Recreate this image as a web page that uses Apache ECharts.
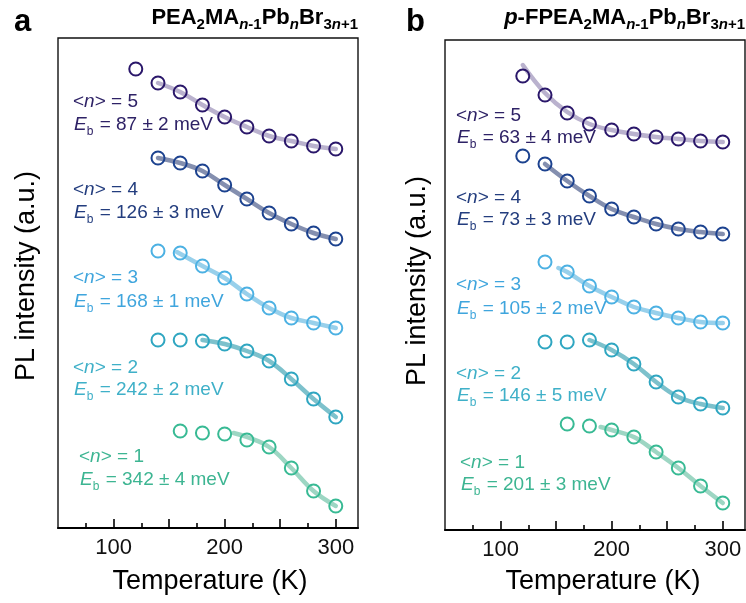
<!DOCTYPE html>
<html>
<head>
<meta charset="utf-8">
<script src="https://cdn.jsdelivr.net/npm/echarts@6/dist/echarts.min.js"></script>
<style>html,body{margin:0;padding:0;background:#fff}#c{width:746px;height:603px}</style>
</head>
<body>
<div id="c"></div>
<script>
// ---- data (temperature in K, PL intensity in arbitrary offset units) ----
const temps = [120, 140, 160, 180, 200, 220, 240, 260, 280, 300];
const xTicksMajor = [100, 150, 200, 250, 300];
const xTicksMinor = [75, 125, 175, 225, 275];
const xLabels = [100, 200, 300];

// panel a: PEA2MA(n-1)PbnBr(3n+1)
const a5 = [459, 445, 436, 423, 411, 401, 392, 387, 382, 379];
const a4 = [null, 370, 365, 357, 343, 329, 315, 304, 295, 289];
const a3 = [null, 277, 275, 262, 250, 234, 220, 210, 205, 200];
const a2 = [null, 188, 188, 187, 184, 177, 167, 149, 129, 111];
const a1 = [null, null, 97, 95, 94, 88, 81, 60, 37, 22];
const fitA5 = [[140, 445], [160, 436], [180, 423], [200, 411], [220, 401], [240, 392], [260, 387], [280, 382], [300, 379]];
const fitA4 = [[140, 370], [160, 365], [180, 357], [200, 343], [220, 329], [240, 315], [260, 304], [280, 295], [300, 289]];
const fitA3 = [[157, 276], [180, 262], [200, 250], [220, 234], [240, 220], [260, 210], [280, 205], [300, 200]];
const fitA2 = [[180, 188], [200, 184], [220, 177], [240, 167], [260, 149], [280, 129], [300, 111]];
const fitA1 = [[208, 95], [220, 91], [240, 81], [260, 60], [280, 37], [300, 22]];

// panel b: p-FPEA2MA(n-1)PbnBr(3n+1)
const b5 = [454, 435, 417, 406, 400, 396, 393, 391, 389, 388];
const b4 = [374, 366, 349, 334, 321, 313, 306, 301, 298, 296];
const b3 = [null, 268, 258, 244, 233, 223, 217, 212, 208, 207];
const b2 = [null, 188, 188, 190, 180, 166, 148, 133, 126, 122];
const b1 = [null, null, 106, 104, 100, 93, 78, 62, 44, 27];
const fitB5 = [[120, 465], [140, 437], [160, 418], [180, 406], [200, 400], [220, 396], [240, 393], [260, 391], [280, 389], [300, 388]];
const fitB4 = [[140, 366], [160, 349], [180, 334], [200, 321], [220, 313], [240, 306], [260, 301], [280, 298], [300, 296]];
const fitB3 = [[152, 262], [160, 258], [180, 244], [200, 233], [220, 223], [240, 217], [260, 212], [280, 208], [300, 207]];
const fitB2 = [[180, 190], [200, 180], [220, 166], [240, 148], [260, 133], [280, 126], [300, 122]];
const fitB1 = [[190, 103], [200, 100], [220, 93], [240, 78], [260, 62], [280, 44], [300, 27]];

const nLabels = ['5', '4', '3', '2', '1'];
const ebA = ['87 ± 2', '126 ± 3', '168 ± 1', '242 ± 2', '342 ± 4'];
const ebB = ['63 ± 4', '73 ± 3', '105 ± 2', '146 ± 5', '201 ± 3'];

// ---- styles ----
const FONT = "'Liberation Sans', Arial, Helvetica, sans-serif";
const markerColors = ['#2a176a', '#1c428f', '#4cb1e3', '#2fa6c1', '#38ba94'];
const lineColors = ['#b3aac9', '#7783a6', '#8dcbe9', '#6fbac7', '#92d2bc'];
const textColors = ['#2e2266', '#233d7e', '#3fa5dd', '#3fb0c8', '#3db592'];

const chart = echarts.init(document.getElementById('c'), null, {renderer: 'canvas'});

function zip(vals) { return temps.map((t, i) => [t, vals[i]]).filter(p => p[1] !== null); }

function xAxisPair(gi) {
  return [
    {
      gridIndex: gi, type: 'value', min: 50, max: 320, position: 'bottom',
      axisLine: {show: true, onZero: false, lineStyle: {color: '#000', width: 2}},
      axisTick: {show: true, inside: true, length: 9, customValues: xTicksMajor, lineStyle: {color: '#000', width: 1.6}},
      axisLabel: {show: true, customValues: xLabels, margin: 9, fontSize: 22, color: '#111', fontFamily: FONT},
      splitLine: {show: false}
    },
    {
      gridIndex: gi, type: 'value', min: 50, max: 320, position: 'bottom',
      axisLine: {show: false},
      axisTick: {show: true, inside: true, length: 5, customValues: xTicksMinor, lineStyle: {color: '#000', width: 1.6}},
      axisLabel: {show: false},
      splitLine: {show: false}
    }
  ];
}

function yAxis(gi) {
  return {gridIndex: gi, type: 'value', min: 0, max: 490, show: false};
}

const series = [];
function addPanel(gi, pts, fits) {
  fits.forEach((f, k) => {
    series.push({
      type: 'line', xAxisIndex: gi * 2, yAxisIndex: gi, data: f, smooth: 0.4,
      showSymbol: false, symbol: 'none', z: 2, silent: true,
      lineStyle: {color: lineColors[k], width: 4.5, opacity: 0.9, cap: 'round'}
    });
  });
  pts.forEach((p, k) => {
    series.push({
      type: 'scatter', xAxisIndex: gi * 2, yAxisIndex: gi, data: zip(p), z: 3,
      symbol: 'circle', symbolSize: 13,
      itemStyle: {color: 'rgba(255,255,255,0)', borderColor: markerColors[k], borderWidth: 2, opacity: 1}
    });
  });
}
addPanel(0, [a5, a4, a3, a2, a1], [fitA5, fitA4, fitA3, fitA2, fitA1]);
addPanel(1, [b5, b4, b3, b2, b1], [fitB5, fitB4, fitB3, fitB2, fitB1]);

// ---- text graphics ----
function richFor(color, size) {
  return {
    t: {fontSize: size, fontFamily: FONT, fill: color},
    ti: {fontSize: size, fontFamily: FONT, fill: color, fontStyle: 'italic'},
    ts: {fontSize: Math.round(size * 0.62), fontFamily: FONT, fill: color, padding: [13, 1, 0, 0]}
  };
}
const graphics = [];
function annot(x, yN, yE, k, n, eb) {
  graphics.push({
    type: 'text', x: x, y: yN, z: 10,
    style: {text: '{t|<}{ti|n}{t|> = ' + n + '}', fill: textColors[k], rich: richFor(textColors[k], 19), verticalAlign: 'middle', align: 'left'}
  });
  graphics.push({
    type: 'text', x: x + 1, y: yE, z: 10,
    style: {text: '{ti|E}{ts|b}{t| = ' + eb + ' meV}', fill: textColors[k], rich: richFor(textColors[k], 19), verticalAlign: 'middle', align: 'left'}
  });
}
const posA = [[73, 102, 125], [73, 190, 213], [73, 278, 302], [73, 368, 390], [79, 457, 480]];
const posB = [[456, 116, 138], [456, 198, 220], [456, 285, 309], [456, 374, 396], [460, 463, 485]];
posA.forEach((p, k) => annot(p[0], p[1], p[2], k, nLabels[k], ebA[k]));
posB.forEach((p, k) => annot(p[0], p[1], p[2], k, nLabels[k], ebB[k]));

const titleRich = {
  m: {fontSize: 22, fontWeight: 'bold', fontFamily: FONT, fill: '#000'},
  mi: {fontSize: 22, fontWeight: 'bold', fontStyle: 'italic', fontFamily: FONT, fill: '#000'},
  s: {fontSize: 15, fontWeight: 'bold', fontFamily: FONT, fill: '#000', padding: [14, 0, 0, 0]},
  si: {fontSize: 15, fontWeight: 'bold', fontStyle: 'italic', fontFamily: FONT, fill: '#000', padding: [14, 0, 0, 0]}
};
const formula = '{m|PEA}{s|2}{m|MA}{si|n}{s|-1}{m|Pb}{si|n}{m|Br}{s|3}{si|n}{s|+1}';
graphics.push({type: 'text', x: 358, y: 18, style: {text: formula, rich: titleRich, align: 'right', verticalAlign: 'middle'}});
graphics.push({type: 'text', x: 745, y: 18, style: {text: '{mi|p}{m|-F}' + formula, rich: titleRich, align: 'right', verticalAlign: 'middle'}});
graphics.push({type: 'text', x: 14, y: 22, style: {text: 'a', fontSize: 31, fontWeight: 'bold', fontFamily: FONT, fill: '#000', verticalAlign: 'middle'}});
graphics.push({type: 'text', x: 406, y: 22, style: {text: 'b', fontSize: 31, fontWeight: 'bold', fontFamily: FONT, fill: '#000', verticalAlign: 'middle'}});
[[27, 276], [418, 281]].forEach(p => graphics.push({
  type: 'text', x: p[0], y: p[1], rotation: Math.PI / 2,
  style: {text: 'PL intensity (a.u.)', fontSize: 27, fontFamily: FONT, fill: '#000', align: 'center', verticalAlign: 'middle'}
}));
[[210, 582], [603, 582]].forEach(p => graphics.push({
  type: 'text', x: p[0], y: p[1],
  style: {text: 'Temperature (K)', fontSize: 27, fontFamily: FONT, fill: '#000', align: 'center', verticalAlign: 'middle'}
}));

chart.setOption({
  animation: false,
  backgroundColor: '#fff',
  grid: [
    {left: 58, top: 38, width: 300, height: 490, show: true, borderColor: '#111', borderWidth: 1.4, backgroundColor: 'transparent'},
    {left: 445, top: 40, width: 300, height: 490, show: true, borderColor: '#111', borderWidth: 1.4, backgroundColor: 'transparent'}
  ],
  xAxis: [].concat(xAxisPair(0), xAxisPair(1)),
  yAxis: [yAxis(0), yAxis(1)],
  series: series,
  graphic: graphics
});
</script>
</body>
</html>
